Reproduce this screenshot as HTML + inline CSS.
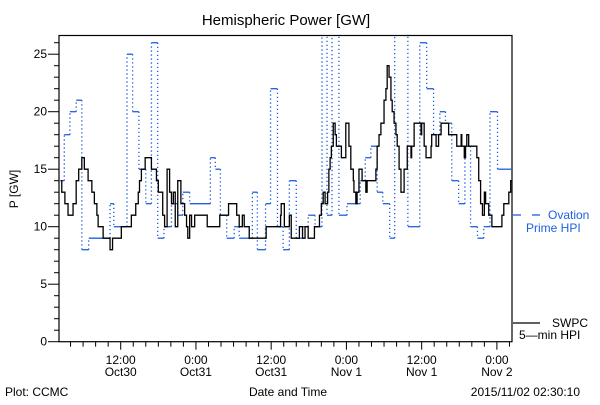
<!DOCTYPE html>
<html><head><meta charset="utf-8"><style>
body{margin:0;background:#fff}
svg text{font-family:"Liberation Sans",sans-serif;font-size:12px;fill:#000}
</style></head><body>
<svg id="c" width="600" height="400" xmlns="http://www.w3.org/2000/svg">
<defs><clipPath id="pa"><rect x="59" y="35.5" width="453" height="306"/></clipPath></defs>
<text x="286" y="25" text-anchor="middle" style="font-size:15px">Hemispheric Power [GW]</text>
<text x="18" y="189" text-anchor="middle" transform="rotate(-90 18 189)">P [GW]</text>
<text x="288" y="396" text-anchor="middle">Date and Time</text>
<text x="5" y="396">Plot: CCMC</text>
<text x="580" y="396" text-anchor="end">2015/11/02 02:30:10</text>
<g id="axes"></g>
<g id="series" clip-path="url(#pa)"></g>
<g>
<line x1="513" y1="215" x2="521" y2="215" stroke="#1f5fe0" stroke-width="1.3"/>
<line x1="532" y1="215" x2="540" y2="215" stroke="#1f5fe0" stroke-width="1.3"/>
<text x="548" y="219" style="fill:#1f5fe0">Ovation</text>
<text x="526" y="232" style="fill:#1f5fe0">Prime HPI</text>
</g>
<g>
<line x1="513" y1="323" x2="540" y2="323" stroke="#000" stroke-width="1.3"/>
<text x="552" y="327">SWPC</text>
<text x="519" y="339">5—min HPI</text>
</g>
</svg>
<script>
const yTicks=[0,5,10,15,20,25];
const xTickHours=[12,24,36,48,60,72];
const xTickTime=["12:00","0:00","12:00","0:00","12:00","0:00"];
const xTickDate=["Oct30","Oct31","Oct31","Nov 1","Nov 1","Nov 2"];
const seriesStart=2.4;
const swpcT=[0,0.2,0.7,1.2,2.0,2.5,2.9,3.4,3.8,4.4,5.0,5.4,5.8,6.0,6.8,7.9,8.3,9.7,11.3,12.0,12.4,12.6,12.9,13.5,14.5,15.3,15.6,16.3,16.6,17.0,17.4,17.7,18.0,18.3,18.7,19.2,19.8,20.1,20.3,20.6,20.9,21.4,23.4,25.4,26.8,28.1,28.5,29.0,29.3,30.1,32.8,35.1,35.2,35.7,36.5,36.8,38.1,38.6,39.0,39.5,40.5,41.3,41.6,41.9,42.2,42.6,42.8,43.0,43.2,43.5,43.8,44.0,44.8,45.5,46.0,46.3,46.7,46.8,47.1,47.3,47.6,48.1,48.7,48.9,50.3,50.5,50.8,51.1,51.6,51.9,52.1,52.4,52.7,52.9,53.2,53.5,53.7,54.0,54.3,54.8,55.3,55.9,56.0,56.4,57.5,57.6,58.0,58.3,59.1,59.2,59.9,60.3,60.7,61.9,63.2,63.9,64.0,64.4,64.6,64.8,65.1,66.4,66.7,67.0,67.3,67.6,67.8,68.3,68.8,70.4,70.7,71.5,71.8,72.0];
const swpcV=[14,13,12,11,12,14,15,16,15,14,13,12,11,10,9,8,9,10,11,12,13,14,15,16,15,14,13,11,10,15,13,12,13,10,14,12,11,10,9,11,10,11,10,11,12,11,10,11,10,9,10,11,12,10,11,9,10,9,10,9,10,11,12,13,12,13,15,16,17,19,18,17,16,19,17,15,14,13,12,13,15,14,13,14,15,17,18,19,21,22,24,23,21,20,19,18,17,15,13,15,17,16,17,19,18,19,17,16,17,18,17,18,19,18,17,18,17,16,17,18,17,16,14,12,11,13,12,11,10,11,12,13,14,14];
const ovT=[0,0.6,1.5,2.5,3.4,4.5,7.9,8.5,10.6,11.5,12.5,13.6,14.5,15.5,16.5,17.7,18.7,19.5,20.6,23.9,24.7,25.5,26.5,27.7,28.5,30.6,31.4,32.7,33.5,34.6,35.5,36.5,37.6,38.6,39.5,40.6,41.7,42.5,43.3,44.4,45.7,47.8,48.6,49.5,50.5,51.4,52.5,53.3,55.4,57.3,58.4,59.5,60.5,61.4,62.4,63.5,64.5,65.4,66.5,67.5,68.5,69.7,72.0];
const ovV=[14,18,20,21,8,9,12,10,25,20,15,12,26,9,10,12,11,13,12,16,15,11,9,10,9,13,8,12,22,10,8,14,9,10,11,10,30,11,30,11,12,14,16,17,13,12,9,30,10,26,22,18,20,19,14,12,17,10,9,10,20,15,15];
const NS="http://www.w3.org/2000/svg";
const X0=59,X1=512,Y0=341.7,Y1=35.5;
const hMin=9.6-12+12-9.6+(-0.4)+ (120.7-59)/6.27*0 ; // unused helper
function xs(h){return 120.7+(h-12)*6.27;}
function ys(v){return Y0-v*11.5;}
const ax=document.getElementById('axes');
function mk(tag,attrs,parent){const e=document.createElementNS(NS,tag);for(const k in attrs)e.setAttribute(k,attrs[k]);parent.appendChild(e);return e;}
const frame=mk('rect',{x:X0,y:Y1,width:X1-X0,height:Y0-Y1,fill:'none',stroke:'#000','stroke-width':1.2},ax);


for(let v=0;v<=26;v++){
  const big=v%5===0;
  const t=mk('line',{x1:X0-(big?11:5),x2:X0,y1:ys(v),y2:ys(v),stroke:'#000'},ax);
  
  
}
yTicks.forEach(v=>{
  const t=mk('text',{x:47,y:ys(v)+4,'text-anchor':'end'},ax);t.textContent=v;
  
  
});
const hS=(X0-120.7)/6.27+12,hE=(X1-120.7)/6.27+12;
for(let h=Math.ceil(hS/2)*2;h<=hE;h+=2){
  const big=h%12===0;
  const t=mk('line',{x1:xs(h),x2:xs(h),y1:Y0,y2:Y0+(big?8:5),stroke:'#000'},ax);
  
  
}
xTickHours.forEach((h,i)=>{
  const a=mk('text',{x:xs(h),y:364,'text-anchor':'middle'},ax);a.textContent=xTickTime[i];
  
  
  const b=mk('text',{x:xs(h),y:376,'text-anchor':'middle'},ax);b.textContent=xTickDate[i];
  
  
});
const sg=document.getElementById('series');
// Ovation: solid horizontals, dotted verticals
for(let i=0;i<ovT.length-1;i++){
  const x1=xs(ovT[i]+seriesStart),x2=xs(ovT[i+1]+seriesStart),y=ys(ovV[i]);
  const h=mk('line',{x1:x1,x2:x2,y1:y,y2:y,stroke:'#1f5fe0','stroke-width':1.3},sg);
  
  
  if(i<ovT.length-2){
    const v=mk('line',{x1:x2,x2:x2,y1:y,y2:ys(ovV[i+1]),stroke:'#1f5fe0','stroke-width':1.3,'stroke-dasharray':'1.3 2.7'},sg);
    
    
  }
}
let d='';
for(let i=0;i<swpcT.length;i++){
  const x=xs(swpcT[i]+seriesStart),y=ys(swpcV[i]);
  if(i===0)d+='M'+x+' '+y;else d+='V'+y+'H'+x;
  if(i<swpcT.length-1)d+='H'+xs(swpcT[i+1]+seriesStart);
}
const p=mk('path',{d:d,fill:'none',stroke:'#000','stroke-width':1.3},sg);


</script>
</body></html>
